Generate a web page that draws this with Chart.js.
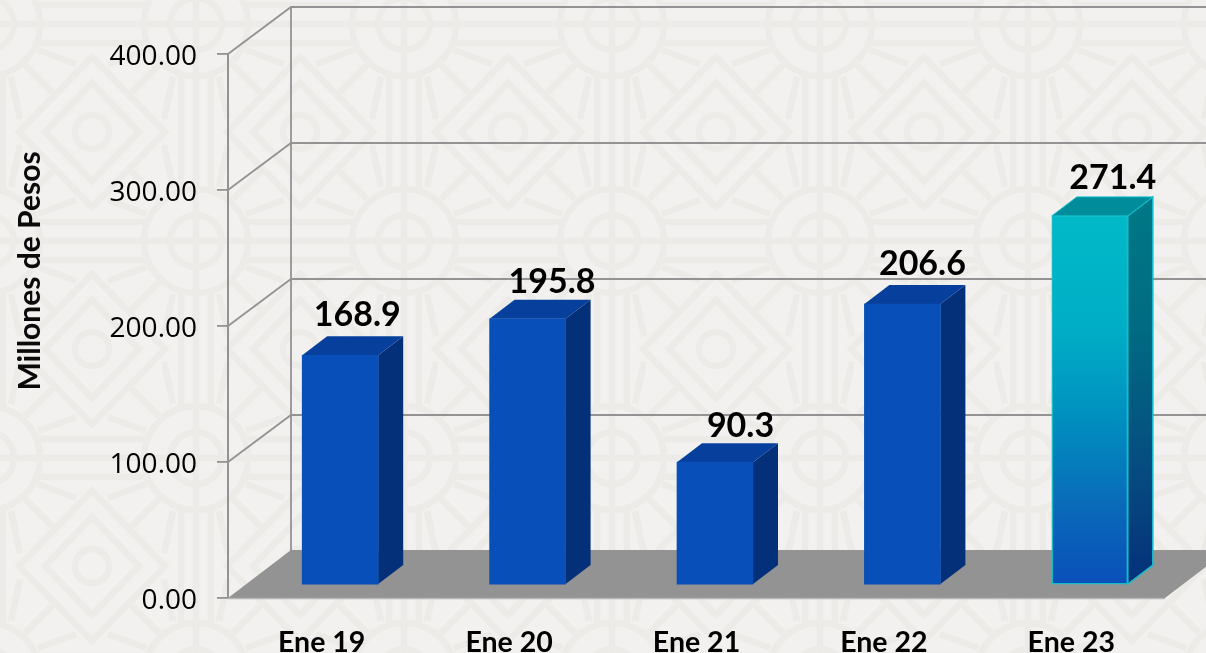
<!DOCTYPE html>
<html><head><meta charset="utf-8">
<style>html,body{margin:0;padding:0;background:#f2f1ef;overflow:hidden}canvas{display:block}</style>
<script src="https://cdn.jsdelivr.net/npm/chart.js@4"></script>
</head><body>
<canvas id="c" width="1206" height="653"></canvas>
<script>
const categories = ["Ene 19","Ene 20","Ene 21","Ene 22","Ene 23"];
const values = [168.9,195.8,90.3,206.6,271.4];
const axisTitle = "Millones de Pesos";
const highlightIndex = 4;
const labelNudgeX = [17,24.5,25.5,20,23];
const labelNudgeY = [0,3,4,0,2];

const DEPTH_X = 63, DEPTH_Y = 47;      // wall depth
const BAR_X = 18.5, BAR_Y = 13;        // offset of bars into the floor
const BAR_DX = 25, BAR_DY = 19;        // bar depth
const LINE = '#939393';

function patternPlugin(ctx, W, H){
  ctx.fillStyle = '#f2f1ef'; ctx.fillRect(0,0,W,H);
  ctx.save();
  ctx.strokeStyle = '#ecebe7'; ctx.lineWidth = 6.5; ctx.lineCap='butt'; ctx.lineJoin='miter';
  const px = 208, py = 217, ox = 196, oy = 24;
  const seg=(a,b,c,d)=>{ctx.beginPath();ctx.moveTo(a,b);ctx.lineTo(c,d);ctx.stroke();};
  for(let i=-2;i<8;i++) for(let j=-1;j<5;j++){
    const cx=ox+i*px, cy=oy+j*py;
    // links between circles
    [-19,0,19].forEach(d=>seg(cx+(d===0?52:48),cy+d,cx+px-(d===0?52:48),cy+d));
    [-15,0,15].forEach(d=>seg(cx+d,cy+(d===0?52:50),cx+d,cy+py-(d===0?52:50)));
    // circle
    ctx.beginPath();ctx.arc(cx,cy,52,0,Math.PI*2);ctx.stroke();
    ctx.beginPath();ctx.arc(cx,cy,26,0,Math.PI*2);ctx.stroke();
    seg(cx-52,cy,cx+52,cy);seg(cx,cy-52,cx,cy+52);
    // diamond
    const dx=cx+104, dy=cy+108;
    [[73,75],[47,49]].forEach(([a,b])=>{
      ctx.beginPath();ctx.moveTo(dx-a,dy);ctx.lineTo(dx,dy-b);ctx.lineTo(dx+a,dy);ctx.lineTo(dx,dy+b);ctx.closePath();ctx.stroke();
    });
    ctx.beginPath();ctx.arc(dx,dy,17,0,Math.PI*2);ctx.stroke();
    [[1,1],[1,-1],[-1,1],[-1,-1]].forEach(([sx,sy])=>{
      seg(dx+sx*67,dy+sy*67,dx+sx*38,dy+sy*38);
      seg(dx+sx*16,dy+sy*68,dx+sx*54,dy+sy*82);
      seg(dx+sx*72,dy+sy*13,dx+sx*81,dy+sy*55);
    });
  }
  ctx.restore();
}

const frame3d = {
  id:'frame3d',
  beforeDraw(chart){ patternPlugin(chart.ctx, chart.width, chart.height); },
  beforeDatasetsDraw(chart){
    const {ctx, scales:{y}, chartArea:a, width} = chart;
    const x0=a.left, x1=a.right, yb=y.getPixelForValue(0);
    ctx.save();
    // floor
    ctx.fillStyle='#939393';
    ctx.beginPath();
    ctx.moveTo(x0,yb);ctx.lineTo(x0+DEPTH_X,yb-DEPTH_Y-1);ctx.lineTo(x1+DEPTH_X,yb-DEPTH_Y-1);ctx.lineTo(x1,yb);ctx.closePath();ctx.fill();
    ctx.strokeStyle='#b5b5b5';ctx.lineWidth=1.5;
    ctx.beginPath();ctx.moveTo(x0,yb+0.5);ctx.lineTo(x1,yb+0.5);ctx.stroke();
    // walls and grid
    ctx.strokeStyle=LINE;ctx.lineWidth=1.8;
    ctx.beginPath();ctx.moveTo(x0+DEPTH_X,y.getPixelForValue(400)-DEPTH_Y);ctx.lineTo(x0+DEPTH_X,yb-DEPTH_Y);ctx.stroke();
    y.ticks.forEach(t=>{
      const py=y.getPixelForValue(t.value);
      if(t.value===0) return;
      ctx.beginPath();ctx.moveTo(x0,py);ctx.lineTo(x0+DEPTH_X,py-DEPTH_Y);ctx.lineTo(width+30,py-DEPTH_Y);ctx.stroke();
    });
    // axis title
    ctx.translate(30,271);ctx.rotate(-Math.PI/2);
    ctx.font='bold 30px Lato';ctx.fillStyle='#0a0a0a';ctx.textAlign='center';ctx.textBaseline='middle';
    ctx.fillText(axisTitle,0,0);
    ctx.restore();
    // bars live a little inside the floor
    ctx.save();
    ctx.translate(BAR_X,-BAR_Y);
    const meta=chart.getDatasetMeta(0);
    meta.data.forEach((b,i)=>{
      const l=b.x-b.width/2, r=b.x+b.width/2, t=b.y, bot=b.base;
      const hi=i===highlightIndex;
      let side='#04307a', top='#063f9c';
      if(hi){
        side=ctx.createLinearGradient(0,t-BAR_DY,0,bot);
        side.addColorStop(0,'#007986');side.addColorStop(.35,'#006a82');side.addColorStop(.7,'#064c80');side.addColorStop(1,'#04307a');
        top='#008c9a';
      }
      ctx.fillStyle=side;
      ctx.beginPath();ctx.moveTo(r,t);ctx.lineTo(r+BAR_DX,t-BAR_DY);ctx.lineTo(r+BAR_DX,bot-BAR_DY);ctx.lineTo(r,bot);ctx.closePath();ctx.fill();
      if(hi){ctx.strokeStyle='#14bccb';ctx.lineWidth=1.5;ctx.stroke();}
      ctx.fillStyle=top;
      ctx.beginPath();ctx.moveTo(l,t);ctx.lineTo(l+BAR_DX,t-BAR_DY);ctx.lineTo(r+BAR_DX,t-BAR_DY);ctx.lineTo(r,t);ctx.closePath();ctx.fill();
      if(hi){ctx.strokeStyle='#14bccb';ctx.lineWidth=1;ctx.stroke();}
    });
  },
  afterDatasetsDraw(chart){
    const {ctx}=chart;
    ctx.restore();
    ctx.save();
    ctx.font='bold 34px Lato';ctx.fillStyle='#000';ctx.textAlign='center';ctx.textBaseline='middle';
    chart.getDatasetMeta(0).data.forEach((b,i)=>{
      ctx.fillText(values[i].toFixed(1), b.x+BAR_X+labelNudgeX[i], b.y-BAR_Y-BAR_DY-21+labelNudgeY[i]);
    });
    ctx.restore();
  }
};

new Chart(document.getElementById('c'),{
  type:'bar',
  data:{labels:categories,datasets:[{
    data:values,
    barThickness:76,
    clip:false,
    backgroundColor(c){
      if(c.dataIndex!==highlightIndex) return '#094fb9';
      const area=c.chart.scales.y;
      const top=area.getPixelForValue(values[highlightIndex]), bot=area.getPixelForValue(0);
      const g=c.chart.ctx.createLinearGradient(0,top,0,bot);
      g.addColorStop(0,'#00b9c7');g.addColorStop(.3,'#00aec6');g.addColorStop(.55,'#008fbf');g.addColorStop(.8,'#0a68b9');g.addColorStop(1,'#094fb9');
      return g;
    },
    borderColor(c){return c.dataIndex===highlightIndex?'#14bccb':'rgba(0,0,0,0)';},
    borderWidth(c){return c.dataIndex===highlightIndex?1.5:0;},
    borderSkipped:false
  }]},
  options:{
    responsive:false,animation:false,
    events:[],
    layout:{padding:{top:54,right:41,left:0,bottom:0}},
    plugins:{legend:{display:false},tooltip:{enabled:false}},
    scales:{
      x:{
        afterFit(s){s.height=55;},
        grid:{display:false},
        border:{display:false},
        ticks:{color:'#000',font:{family:'Lato',weight:'bold',size:28.5},padding:20,maxRotation:0}
      },
      y:{
        min:0,max:400,
        afterFit(s){s.width=228;},
        ticks:{stepSize:100,color:'#000',font:{family:'Open Sans',size:28},padding:20,labelOffset:3.5,callback:v=>Number(v).toFixed(2)},
        grid:{drawOnChartArea:false,drawTicks:true,tickLength:11,color:LINE,lineWidth:1.8},
        border:{display:true,color:LINE,width:2}
      }
    }
  },
  plugins:[frame3d]
});
</script>
</body></html>
